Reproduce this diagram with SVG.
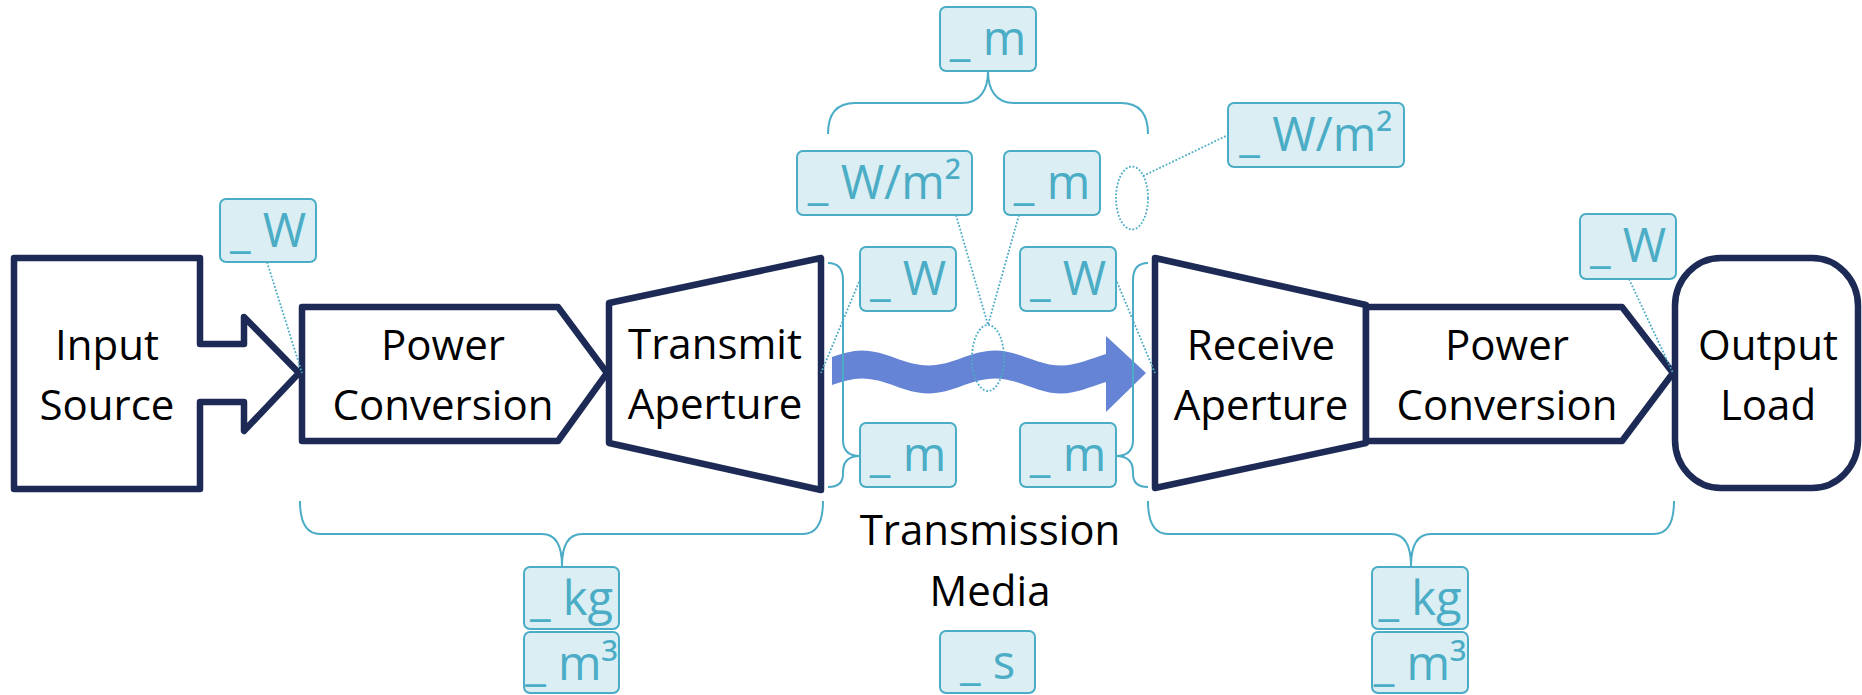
<svg xmlns="http://www.w3.org/2000/svg" width="1862" height="695" viewBox="0 0 1862 695">
  <style>
    .blk { fill: #ffffff; stroke: #1c2a55; stroke-width: 6.5; stroke-linejoin: round; }
    .lbl { font-family: "Open Sans", "Liberation Sans", sans-serif; font-size: 42px; fill: #000000; text-anchor: middle; }
    .tag rect { fill: #daeef3; stroke: #4bacc6; stroke-width: 2; }
    .tag text { font-family: "Open Sans", "Liberation Sans", sans-serif; font-size: 47px; fill: #4bacc6; text-anchor: middle; }
    .brace { fill: none; stroke: #4bacc6; stroke-width: 2; }
    .dot { fill: none; stroke: #4bacc6; stroke-width: 1.8; stroke-dasharray: 1.8 1.8; }
    .beam { fill: #6584d5; }
  </style>

  <!-- main chain blocks -->
  <g id="input-source">
    <polygon class="blk" points="14,258 200,258 200,344 244,344 244,317 299,373 244,431 244,402 200,402 200,489 14,489"/>
    <text class="lbl" x="107" y="360">Input</text>
    <text class="lbl" x="107" y="420">Source</text>
  </g>
  <g id="power-conversion-tx">
    <polygon class="blk" points="302,307 558,307 607,373 558,441 302,441"/>
    <text class="lbl" x="443" y="360">Power</text>
    <text class="lbl" x="443" y="420">Conversion</text>
  </g>
  <g id="transmit-aperture">
    <polygon class="blk" points="609,303 821,258 821,490 609,443"/>
    <text class="lbl" x="715" y="359">Transmit</text>
    <text class="lbl" x="715" y="419">Aperture</text>
  </g>
  <g id="receive-aperture">
    <polygon class="blk" points="1155,258 1366,305 1366,443 1155,488"/>
    <text class="lbl" x="1261" y="360">Receive</text>
    <text class="lbl" x="1261" y="420">Aperture</text>
  </g>
  <g id="power-conversion-rx">
    <polygon class="blk" points="1366,307 1622,307 1673,373 1622,441 1366,441"/>
    <text class="lbl" x="1507" y="360">Power</text>
    <text class="lbl" x="1507" y="420">Conversion</text>
  </g>
  <g id="output-load">
    <rect class="blk" x="1675" y="258" width="183" height="230" rx="46" ry="48"/>
    <text class="lbl" x="1768" y="360">Output</text>
    <text class="lbl" x="1768" y="420">Load</text>
  </g>
  <g id="transmission-media">
    <text class="lbl" x="990" y="545">Transmission</text>
    <text class="lbl" x="990" y="606">Media</text>
  </g>

  <!-- wavy power beam -->
  <g id="beam">
    <path class="beam" d="M832,357 C842,353.5 852,350.5 862,350.5 C886.2,350.5 904.3,365.5 928.5,365.5 C952.7,365.5 970.8,350.5 995,350.5 C1019.2,350.5 1037.3,365.5 1061.5,365.5 C1076.3,365.5 1091.2,358.5 1106,354 L1106,336 L1146,373 L1106,412 L1106,382 C1091.2,386.5 1076.3,393.5 1061.5,393.5 C1037.3,393.5 1019.2,378.5 995,378.5 C970.8,378.5 952.7,393.5 928.5,393.5 C904.3,393.5 886.2,378.5 862,378.5 C852,378.5 842,381.5 832,385 Z"/>
  </g>

  <!-- braces and dotted leaders -->
  <g id="connectors">
    <path class="brace" d="M828,134 C828,115 835,103 855,103 L962,103 C980,103 988,90 988,71 C988,90 996,103 1014,103 L1121,103 C1141,103 1148,115 1148,134"/>
    <path class="brace" d="M828,263 Q843,263 843,280 L843,440 Q843,456 860,456 Q843,456 843,472 L843,474 Q843,487 828,487"/>
    <path class="brace" d="M1148,263 Q1133,263 1133,280 L1133,440 Q1133,456 1116,456 Q1133,456 1133,472 L1133,474 Q1133,487 1148,487"/>
    <path class="brace" d="M300,501 C300,522 306,534 320,534 L542,534 C556,534 562,546 562,566 C562,546 568,534 582,534 L803,534 C817,534 823,522 823,501"/>
    <path class="brace" d="M1148,501 C1148,522 1154,534 1168,534 L1391,534 C1405,534 1411,546 1411,566 C1411,546 1417,534 1431,534 L1654,534 C1668,534 1674,522 1674,501"/>

    <line class="dot" x1="267" y1="262" x2="302" y2="373"/>
    <line class="dot" x1="859" y1="282" x2="821" y2="373"/>
    <line class="dot" x1="1117" y1="282" x2="1155" y2="373"/>
    <line class="dot" x1="1629" y1="279" x2="1673" y2="373"/>
    <line class="dot" x1="956" y1="215" x2="988" y2="325"/>
    <line class="dot" x1="1019" y1="215" x2="988" y2="325"/>
    <line class="dot" x1="1143" y1="176" x2="1228" y2="135"/>
    <ellipse class="dot" cx="988" cy="358" rx="16" ry="33"/>
    <ellipse class="dot" cx="1132" cy="198" rx="16" ry="31.5"/>
  </g>

  <!-- quantity tags -->
  <g id="tag-w-input" class="tag"><rect x="220" y="199" width="96" height="63" rx="6"/><text x="268" y="247">_ W</text></g>
  <g id="tag-m-top" class="tag"><rect x="940" y="7" width="96" height="64" rx="6"/><text x="988" y="55">_ m</text></g>
  <g id="tag-wm2-tx" class="tag"><rect x="797" y="151" width="175" height="64" rx="6"/><text x="884.5" y="199">_ W/m²</text></g>
  <g id="tag-m-mid" class="tag"><rect x="1004" y="151" width="96" height="64" rx="6"/><text x="1052" y="199">_ m</text></g>
  <g id="tag-wm2-rx" class="tag"><rect x="1228" y="103" width="176" height="64" rx="6"/><text x="1316" y="151">_ W/m²</text></g>
  <g id="tag-w-tx" class="tag"><rect x="860" y="247" width="96" height="64" rx="6"/><text x="908" y="295">_ W</text></g>
  <g id="tag-w-rx" class="tag"><rect x="1020" y="247" width="96" height="64" rx="6"/><text x="1068" y="295">_ W</text></g>
  <g id="tag-m-tx" class="tag"><rect x="860" y="423" width="96" height="64" rx="6"/><text x="908" y="471">_ m</text></g>
  <g id="tag-m-rx" class="tag"><rect x="1020" y="423" width="96" height="64" rx="6"/><text x="1068" y="471">_ m</text></g>
  <g id="tag-w-output" class="tag"><rect x="1580" y="214" width="96" height="65" rx="6"/><text x="1628" y="262">_ W</text></g>
  <g id="tag-kg-tx" class="tag"><rect x="524" y="567" width="95" height="62" rx="6"/><text x="571.5" y="615">_ kg</text></g>
  <g id="tag-m3-tx" class="tag"><rect x="524" y="632" width="95" height="61" rx="6"/><text x="571.5" y="680">_ m³</text></g>
  <g id="tag-s" class="tag"><rect x="940" y="631" width="95" height="62" rx="6"/><text x="987.5" y="679">_ s</text></g>
  <g id="tag-kg-rx" class="tag"><rect x="1372" y="567" width="96" height="62" rx="6"/><text x="1420" y="615">_ kg</text></g>
  <g id="tag-m3-rx" class="tag"><rect x="1372" y="632" width="96" height="61" rx="6"/><text x="1420" y="680">_ m³</text></g>
</svg>
